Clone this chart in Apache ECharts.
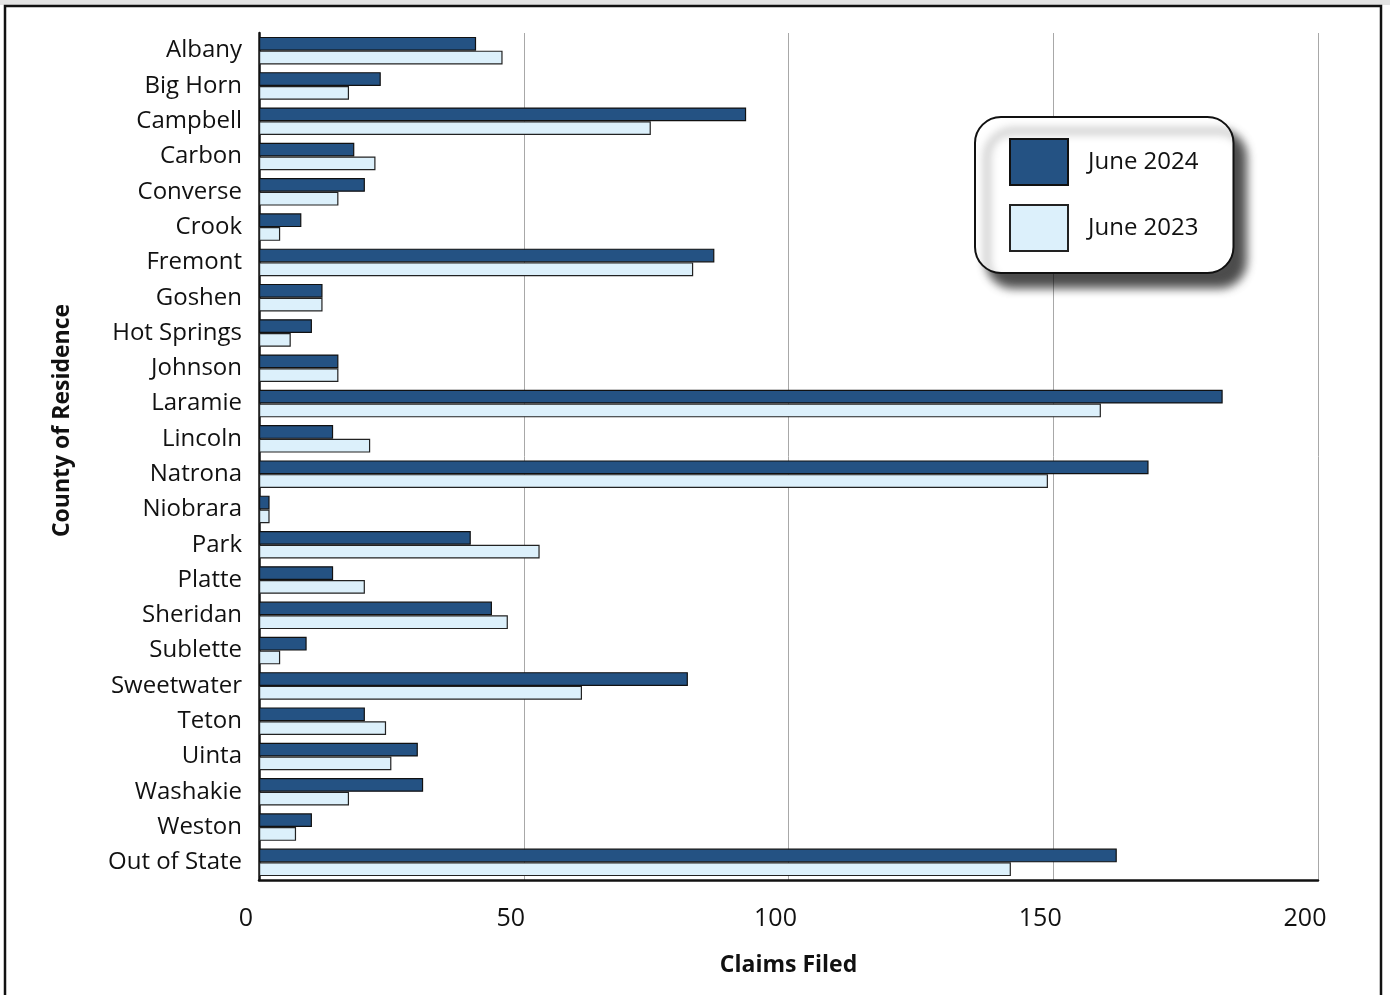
<!DOCTYPE html>
<html>
<head>
<meta charset="utf-8">
<script src="https://cdn.jsdelivr.net/npm/echarts@6/dist/echarts.min.js"></script>
<style>
html,body{margin:0;padding:0;background:#fff;}
#c{width:1390px;height:995px;}
</style>
</head>
<body>
<div id="c"></div>
<script>
const counties = ["Albany","Big Horn","Campbell","Carbon","Converse","Crook","Fremont","Goshen","Hot Springs","Johnson","Laramie","Lincoln","Natrona","Niobrara","Park","Platte","Sheridan","Sublette","Sweetwater","Teton","Uinta","Washakie","Weston","Out of State"];
const june2024 = [41,23,92,18,20,8,86,12,10,15,182,14,168,2,40,14,44,9,81,20,30,31,10,162];
const june2023 = [46,17,74,22,15,4,82,12,6,15,159,21,149,2,53,20,47,4,61,24,25,17,7,142];
const xTicks = [0,50,100,150,200];

const FONT = "'Open Sans','Noto Sans',sans-serif";
const chart = echarts.init(document.getElementById('c'), null, {renderer:'canvas'});
chart.setOption({
  animation:false,
  backgroundColor:'#fff',
  textStyle:{fontFamily:FONT},
  graphic:[
    {type:'rect', shape:{x:0,y:0,width:1390,height:5}, style:{fill:'#e3e3e3'}, silent:true, z:-10},
    {type:'rect', shape:{x:5,y:6,width:1376,height:1000}, style:{fill:'none',stroke:'#111',lineWidth:2.5}, silent:true, z:-9}
  ],
  grid:{left:259,right:72,top:33,bottom:115,containLabel:false},
  legend:{
    orient:'vertical', left:975, top:117,
    data:['June 2024','June 2023'],
    icon:'rect',
    itemWidth:58, itemHeight:46, itemGap:18,
    padding:[21,35,21,34],
    backgroundColor:'#fff', borderColor:'#111', borderWidth:2, borderRadius:26,
    shadowBlur:10, shadowColor:'rgba(0,0,0,0.7)', shadowOffsetX:12, shadowOffsetY:14,
    textStyle:{fontSize:24, color:'#111', fontFamily:FONT, padding:[0,0,0,15]}
  },
  xAxis:{
    type:'value', min:0, max:200, interval:50,
    name:'Claims Filed', nameLocation:'middle', nameGap:74,
    nameTextStyle:{fontSize:23, fontWeight:'bold', color:'#111', fontFamily:FONT},
    axisLine:{show:true, lineStyle:{color:'#111', width:2.5}},
    axisTick:{show:false},
    axisLabel:{fontSize:25, color:'#111', margin:26, padding:[0,26,0,0], fontFamily:FONT,
      formatter:v=>xTicks.includes(v)?String(v):''},
    splitLine:{show:true, lineStyle:{color:'#a8a8a8', width:1}}
  },
  yAxis:{
    type:'category', data:counties, inverse:true,
    name:'County of Residence', nameLocation:'middle', nameGap:185, nameRotate:90,
    nameTextStyle:{fontSize:23, fontWeight:'bold', color:'#111', fontFamily:FONT, padding:[0,0,0,72]},
    axisLine:{show:true, lineStyle:{color:'#111', width:2.5}},
    axisTick:{show:false},
    axisLabel:{fontSize:24, color:'#111', margin:17, fontFamily:FONT},
    splitLine:{show:false}
  },
  series:[
    {name:'June 2024', type:'bar', data:june2024, barGap:'0%', barCategoryGap:'22%',
      itemStyle:{color:'#245283', borderColor:'#111', borderWidth:1.2}},
    {name:'June 2023', type:'bar', data:june2023, barGap:'0%', barCategoryGap:'22%',
      itemStyle:{color:'#dcf0fb', borderColor:'#222', borderWidth:1.2}}
  ]
});
</script>
</body>
</html>
